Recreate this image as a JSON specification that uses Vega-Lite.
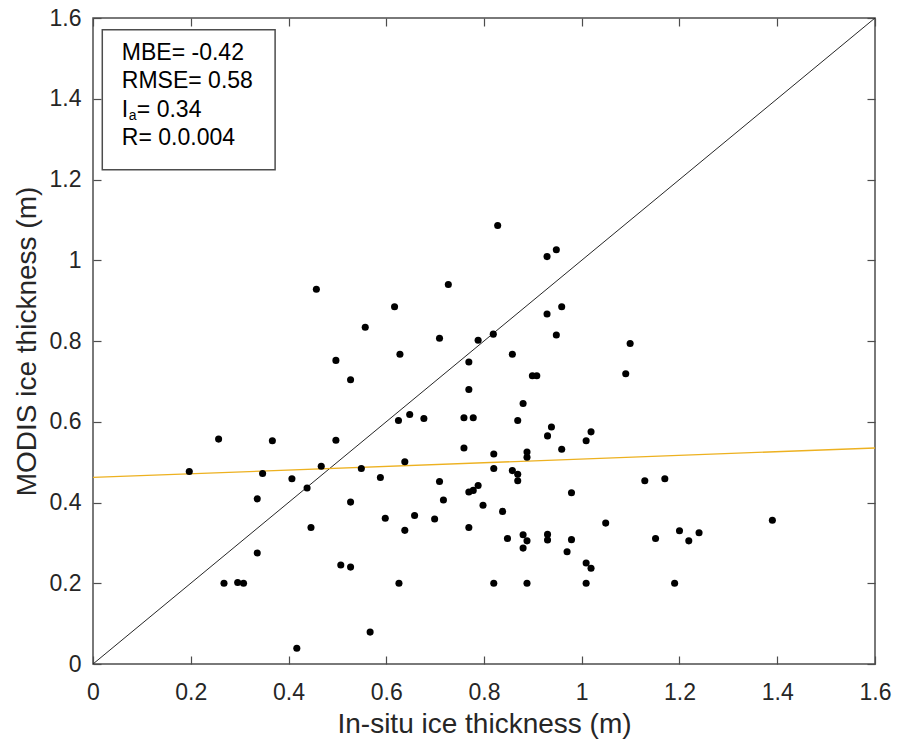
{
  "$schema": "https://vega.github.io/schema/vega-lite/v6.json",
  "autosize": "none",
  "width": 782,
  "height": 646,
  "padding": {"left": 93, "top": 18, "right": 24, "bottom": 86},
  "background": "white",
  "config": {
    "font": "Liberation Sans",
    "view": {"stroke": "#4d4d4d", "strokeWidth": 1.5},
    "axis": {
      "labelFont": "Liberation Sans",
      "titleFont": "Liberation Sans",
      "labelFontSize": 23,
      "titleFontSize": 28,
      "titleFontWeight": "normal",
      "labelColor": "#262626",
      "titleColor": "#262626",
      "gridColor": "#dcdcdc",
      "gridWidth": 1,
      "domain": false,
      "tickColor": "#4d4d4d",
      "tickSize": -8,
      "tickWidth": 1.2
    }
  },
  "datasets": {
    "pts": [
      {"insitu": 0.197, "modis": 0.477}, {"insitu": 0.257, "modis": 0.557}, {"insitu": 0.268, "modis": 0.200},
      {"insitu": 0.296, "modis": 0.202}, {"insitu": 0.308, "modis": 0.200}, {"insitu": 0.336, "modis": 0.409},
      {"insitu": 0.336, "modis": 0.275}, {"insitu": 0.347, "modis": 0.472}, {"insitu": 0.367, "modis": 0.553},
      {"insitu": 0.407, "modis": 0.459}, {"insitu": 0.417, "modis": 0.039}, {"insitu": 0.438, "modis": 0.436},
      {"insitu": 0.446, "modis": 0.338}, {"insitu": 0.457, "modis": 0.928}, {"insitu": 0.467, "modis": 0.490},
      {"insitu": 0.497, "modis": 0.554}, {"insitu": 0.497, "modis": 0.752}, {"insitu": 0.507, "modis": 0.245},
      {"insitu": 0.527, "modis": 0.704}, {"insitu": 0.527, "modis": 0.401}, {"insitu": 0.527, "modis": 0.240},
      {"insitu": 0.549, "modis": 0.484}, {"insitu": 0.557, "modis": 0.834}, {"insitu": 0.567, "modis": 0.079},
      {"insitu": 0.588, "modis": 0.462}, {"insitu": 0.598, "modis": 0.361}, {"insitu": 0.617, "modis": 0.885},
      {"insitu": 0.625, "modis": 0.603}, {"insitu": 0.626, "modis": 0.200}, {"insitu": 0.628, "modis": 0.767},
      {"insitu": 0.638, "modis": 0.501}, {"insitu": 0.638, "modis": 0.331}, {"insitu": 0.648, "modis": 0.618},
      {"insitu": 0.658, "modis": 0.368}, {"insitu": 0.677, "modis": 0.608}, {"insitu": 0.699, "modis": 0.359},
      {"insitu": 0.709, "modis": 0.807}, {"insitu": 0.709, "modis": 0.452}, {"insitu": 0.717, "modis": 0.406},
      {"insitu": 0.727, "modis": 0.940}, {"insitu": 0.759, "modis": 0.610}, {"insitu": 0.759, "modis": 0.535},
      {"insitu": 0.769, "modis": 0.748}, {"insitu": 0.769, "modis": 0.680}, {"insitu": 0.769, "modis": 0.426},
      {"insitu": 0.769, "modis": 0.338}, {"insitu": 0.778, "modis": 0.610}, {"insitu": 0.778, "modis": 0.430},
      {"insitu": 0.788, "modis": 0.802}, {"insitu": 0.788, "modis": 0.442}, {"insitu": 0.798, "modis": 0.393},
      {"insitu": 0.819, "modis": 0.817}, {"insitu": 0.820, "modis": 0.520}, {"insitu": 0.820, "modis": 0.484},
      {"insitu": 0.820, "modis": 0.200}, {"insitu": 0.828, "modis": 1.086}, {"insitu": 0.838, "modis": 0.378},
      {"insitu": 0.848, "modis": 0.311}, {"insitu": 0.858, "modis": 0.767}, {"insitu": 0.858, "modis": 0.479},
      {"insitu": 0.869, "modis": 0.603}, {"insitu": 0.869, "modis": 0.470}, {"insitu": 0.869, "modis": 0.454},
      {"insitu": 0.880, "modis": 0.645}, {"insitu": 0.880, "modis": 0.320}, {"insitu": 0.880, "modis": 0.287},
      {"insitu": 0.888, "modis": 0.525}, {"insitu": 0.888, "modis": 0.512}, {"insitu": 0.888, "modis": 0.305},
      {"insitu": 0.888, "modis": 0.200}, {"insitu": 0.899, "modis": 0.714}, {"insitu": 0.908, "modis": 0.714},
      {"insitu": 0.929, "modis": 1.009}, {"insitu": 0.929, "modis": 0.867}, {"insitu": 0.930, "modis": 0.565},
      {"insitu": 0.930, "modis": 0.321}, {"insitu": 0.930, "modis": 0.307}, {"insitu": 0.938, "modis": 0.587},
      {"insitu": 0.948, "modis": 1.026}, {"insitu": 0.948, "modis": 0.815}, {"insitu": 0.959, "modis": 0.885},
      {"insitu": 0.959, "modis": 0.532}, {"insitu": 0.970, "modis": 0.278}, {"insitu": 0.979, "modis": 0.424},
      {"insitu": 0.979, "modis": 0.308}, {"insitu": 1.009, "modis": 0.553}, {"insitu": 1.009, "modis": 0.250},
      {"insitu": 1.009, "modis": 0.200}, {"insitu": 1.019, "modis": 0.575}, {"insitu": 1.019, "modis": 0.237},
      {"insitu": 1.049, "modis": 0.349}, {"insitu": 1.090, "modis": 0.719}, {"insitu": 1.099, "modis": 0.794},
      {"insitu": 1.129, "modis": 0.454}, {"insitu": 1.151, "modis": 0.311}, {"insitu": 1.170, "modis": 0.459},
      {"insitu": 1.190, "modis": 0.200}, {"insitu": 1.200, "modis": 0.330}, {"insitu": 1.219, "modis": 0.305},
      {"insitu": 1.240, "modis": 0.325}, {"insitu": 1.390, "modis": 0.356}
    ],
    "oneone": [{"insitu": 0, "modis": 0}, {"insitu": 1.6, "modis": 1.6}],
    "fit": [{"insitu": 0, "modis": 0.462}, {"insitu": 1.6, "modis": 0.535}],
    "box": [{"insitu": 0.019, "insitu2": 0.3726, "modis": 1.224, "modis2": 1.571}],
    "txt": [
      {"t": "MBE= -0.42", "insitu": 0.059, "modis": 1.514, "k": "m"},
      {"t": "RMSE= 0.58", "insitu": 0.059, "modis": 1.445, "k": "m"},
      {"t": "I", "insitu": 0.059, "modis": 1.373, "k": "m"},
      {"t": "a", "insitu": 0.059, "modis": 1.373, "k": "s"},
      {"t": "= 0.34", "insitu": 0.059, "modis": 1.373, "k": "r"},
      {"t": "R= 0.0.004", "insitu": 0.059, "modis": 1.304, "k": "m"}
    ]
  },
  "layer": [
    {
      "data": {"name": "oneone"},
      "mark": {"type": "line", "color": "#262626", "strokeWidth": 1, "clip": true},
      "encoding": {
        "x": {"field": "insitu", "type": "quantitative", "scale": {"domain": [0, 1.6], "nice": false},
              "axis": {"orient": "top", "labels": false, "grid": false, "title": null, "values": [0, 0.2, 0.4, 0.6, 0.8, 1, 1.2, 1.4, 1.6]}},
        "y": {"field": "modis", "type": "quantitative", "scale": {"domain": [0, 1.6], "nice": false},
              "axis": {"orient": "right", "labels": false, "grid": false, "title": null, "values": [0, 0.2, 0.4, 0.6, 0.8, 1, 1.2, 1.4, 1.6]}}
      }
    },
    {
      "data": {"name": "fit"},
      "mark": {"type": "line", "color": "#EDB120", "strokeWidth": 1.3},
      "encoding": {
        "x": {"field": "insitu", "type": "quantitative", "axis": null},
        "y": {"field": "modis", "type": "quantitative", "axis": null}
      }
    },
    {
      "data": {"name": "pts"},
      "mark": {"type": "point", "filled": true, "shape": "circle", "size": 50, "color": "black", "opacity": 1},
      "encoding": {
        "x": {"field": "insitu", "type": "quantitative",
              "axis": {"orient": "bottom", "title": "In-situ ice thickness (m)", "values": [0, 0.2, 0.4, 0.6, 0.8, 1, 1.2, 1.4, 1.6], "format": "~g", "labelPadding": 25, "titlePadding": 6, "labelFlush": false}},
        "y": {"field": "modis", "type": "quantitative",
              "axis": {"orient": "left", "title": "MODIS ice thickness (m)", "values": [0, 0.2, 0.4, 0.6, 0.8, 1, 1.2, 1.4, 1.6], "format": "~g", "labelPadding": 20, "titlePadding": 8, "labelFlush": false}}
      }
    },
    {
      "data": {"name": "box"},
      "mark": {"type": "rect", "fill": "white", "stroke": "#4d4d4d", "strokeWidth": 1.5},
      "encoding": {
        "x": {"field": "insitu", "type": "quantitative", "axis": null},
        "x2": {"field": "insitu2"},
        "y": {"field": "modis", "type": "quantitative", "axis": null},
        "y2": {"field": "modis2"}
      }
    },
    {
      "data": {"name": "txt"},
      "transform": [{"filter": "datum.k === 'm'"}],
      "mark": {"type": "text", "align": "left", "baseline": "middle", "fontSize": 23, "color": "black", "font": "Liberation Sans"},
      "encoding": {
        "x": {"field": "insitu", "type": "quantitative", "axis": null},
        "y": {"field": "modis", "type": "quantitative", "axis": null},
        "text": {"field": "t"}
      }
    },
    {
      "data": {"name": "txt"},
      "transform": [{"filter": "datum.k === 's'"}],
      "mark": {"type": "text", "align": "left", "baseline": "middle", "fontSize": 14, "dx": 7, "dy": 6, "color": "black", "font": "Liberation Sans"},
      "encoding": {
        "x": {"field": "insitu", "type": "quantitative", "axis": null},
        "y": {"field": "modis", "type": "quantitative", "axis": null},
        "text": {"field": "t"}
      }
    },
    {
      "data": {"name": "txt"},
      "transform": [{"filter": "datum.k === 'r'"}],
      "mark": {"type": "text", "align": "left", "baseline": "middle", "fontSize": 23, "dx": 15, "color": "black", "font": "Liberation Sans"},
      "encoding": {
        "x": {"field": "insitu", "type": "quantitative", "axis": null},
        "y": {"field": "modis", "type": "quantitative", "axis": null},
        "text": {"field": "t"}
      }
    }
  ]
}
